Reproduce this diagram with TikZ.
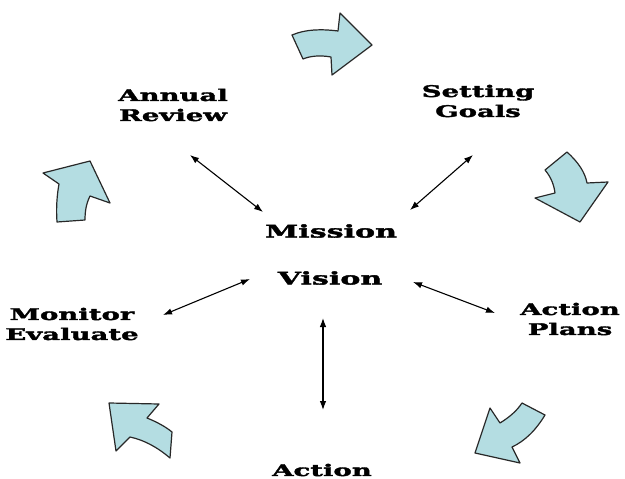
\documentclass[tikz,border=0pt]{standalone}
\usepackage{fontspec}
\usetikzlibrary{arrows.meta}
\newfontfamily\slabfont[FakeStretch=1.72,FakeBold=2.2]{DejaVu Serif}
\definecolor{arrowblue}{RGB}{180,221,226}
\definecolor{edgegray}{RGB}{40,40,40}
\begin{document}
\begin{tikzpicture}[x=1pt, y=-1pt,
        lbl/.style={align=center, inner sep=0pt, font=\slabfont\bfseries\fontsize{16}{20}\selectfont},
        core/.style={inner sep=0pt, font=\slabfont\bfseries\fontsize{17.5}{20}\selectfont},
        turn/.style={fill=arrowblue, draw=edgegray, line width=1.2pt, line join=round},
        link/.style={line width=1.1pt, {Latex[length=9pt,width=6.5pt]}-{Latex[length=9pt,width=6.5pt]}}]
    \useasboundingbox (0,0) rectangle (625,479);

    \node (mission) at (331,231)[core]{Mission};
    \node (vision) at (330,278)[core]{Vision};
    \node (review) at (173,105)[lbl]{Annual\\Review};
    \node (goals) at (478,101)[lbl]{Setting\\Goals};
    \node (monitor) at (72,324)[lbl]{Monitor\\Evaluate};
    \node (plans) at (570,319)[lbl]{Action\\Plans};
    \node (action) at (322,470)[lbl]{Action};

    \coordinate (r1) at (190,155); \coordinate (r2) at (263,212);
    \coordinate (g1) at (473,155); \coordinate (g2) at (410,210);
    \coordinate (m1) at (163,315); \coordinate (m2) at (250,279);
    \coordinate (p1) at (413,282); \coordinate (p2) at (495,313);
    \coordinate (a1) at (323,318); \coordinate (a2) at (323,410);
    \foreach \a/\b in {r1/r2, g1/g2, m1/m2, p1/p2, a1/a2} {
        \draw[link] (\a) -- (\b);
    }

    \draw[turn] (292,35) .. controls (306,29) and (322,29) .. (338,31) -- (340,13) -- (372,45)
        -- (332,75) -- (331,57) .. controls (320,55) and (310,56) .. (303,59) -- cycle;
    \draw[turn] (545,170) -- (567,152) .. controls (578,162) and (585,172) .. (587,183) -- (608,182)
        -- (580,222) -- (535,198) -- (555,193) .. controls (554,185) and (551,177) .. (545,170) -- cycle;
    \draw[turn] (522,403) -- (545,415) .. controls (536,430) and (525,441) .. (512,447) -- (520,463)
        -- (475,453) -- (490,408) -- (500,423) .. controls (508,418) and (516,412) .. (522,403) -- cycle;
    \draw[turn] (109,403) -- (159,404) -- (147,418) .. controls (157,422) and (166,427) .. (172,432)
        -- (170,458) .. controls (157,447) and (144,440) .. (130,437) -- (116,451) -- cycle;
    \draw[turn] (90,161) -- (110,203) -- (90,196) .. controls (86,204) and (85,212) .. (85,220)
        -- (57,222) .. controls (56,208) and (57,195) .. (59,184) -- (43,173) -- cycle;
\end{tikzpicture}
\end{document}
